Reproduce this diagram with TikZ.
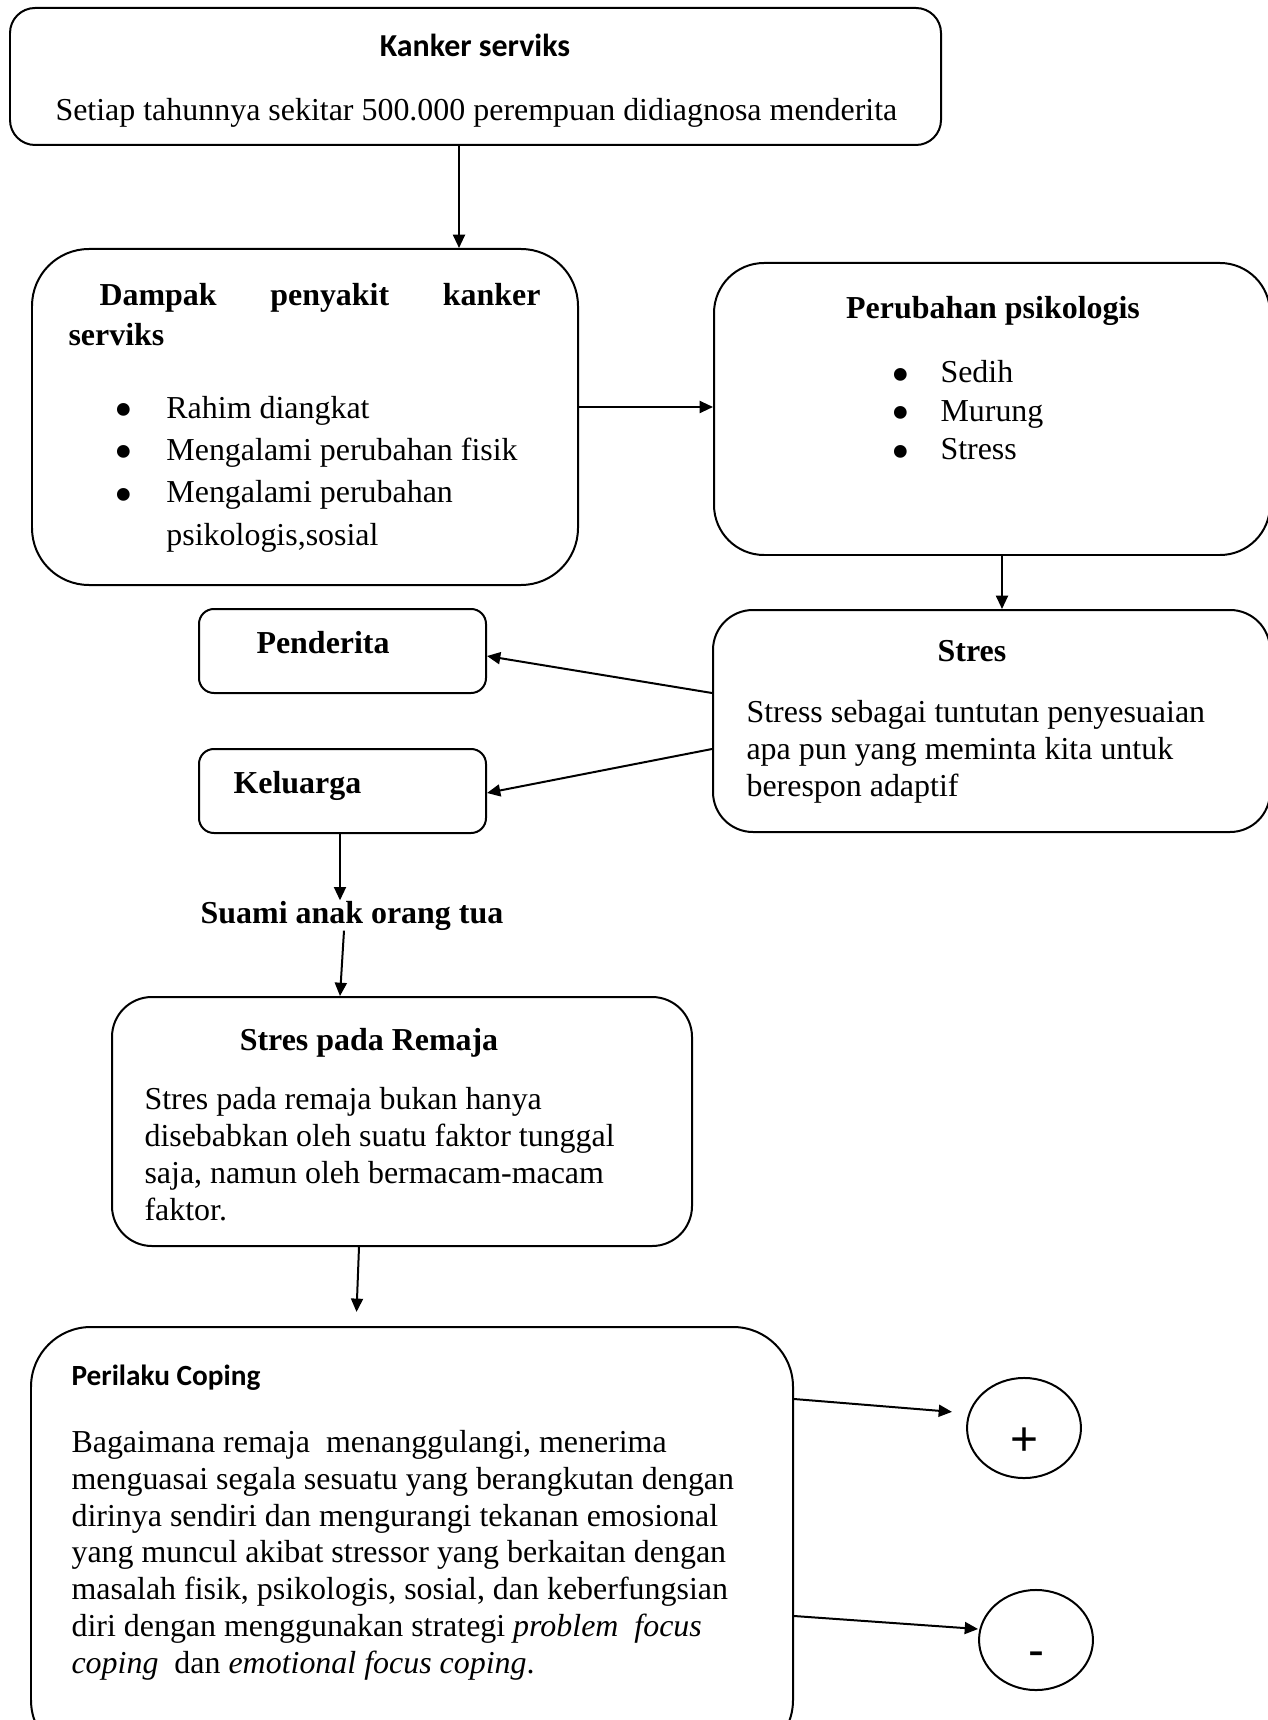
\documentclass[tikz,border=0pt]{standalone}
\usepackage{fontspec}
\setmainfont{Liberation Serif}
\newfontfamily\calibri{Carlito}
\newfontfamily\arialfont{Liberation Sans}
\usetikzlibrary{arrows.meta,fit,shapes.geometric}
\newcommand{\itm}[2][19.5pt]{\makebox[#1][l]{\smash{\raisebox{-3.6pt}{\fontsize{20pt}{20pt}\selectfont\textbullet}}}#2}

\begin{document}
\begin{tikzpicture}[x=0.3757pt, y=-0.3757pt,
	box/.style={draw, line width=0.75pt, inner sep=0pt},
	txt/.style={inner sep=0pt, anchor=base west, align=left, font=\fontsize{12pt}{13.8pt}\selectfont},
	head/.style={inner sep=0pt, anchor=base, font=\fontsize{12pt}{13.8pt}\selectfont\bfseries},
	sans/.style={inner sep=0pt, anchor=base west, font=\calibri\bfseries\fontsize{11pt}{13pt}\selectfont},
	arr/.style={line width=0.75pt, -{Triangle[length=5pt,width=4.5pt]}}]
			
			\useasboundingbox (0,0) rectangle (1267,1720);
			
			%%%%% BOXES %%%%%
			\node[box, rounded corners=9.4pt, fit={(10,8) (941,145)}] (kanker) {};
			\node[box, rounded corners=21.4pt, fit={(32,249) (578,585)}] (dampak) {};
			\node[box, rounded corners=18.8pt, fit={(714,263) (1270,555)}] (perub) {};
			\node[box, rounded corners=15pt, fit={(713,610) (1270,832)}] (stres) {};
			\node[box, rounded corners=5.6pt, fit={(199,609) (486,693)}] (pend) {};
			\node[box, rounded corners=5.6pt, fit={(199,749) (486,833)}] (kel) {};
			\node[box, rounded corners=15pt, fit={(112,997) (692,1246)}] (remaja) {};
			\node[box, rounded corners=22.5pt, fit={(31,1327) (793,1760)}] (peril) {};
			\node[box, ellipse, minimum width=42.8pt, minimum height=37.6pt] (plus) at (1024,1428) {};
			\node[box, ellipse, minimum width=42.8pt, minimum height=37.6pt] (minus) at (1036,1640) {};
			
			%%%%% TEXT (multi-line nodes sit on their last baseline) %%%%%
			\node[sans, anchor=base, font=\calibri\bfseries\fontsize{12pt}{14pt}\selectfont] (kankert) at (475,57) {Kanker serviks};
			\node[txt] (kankerx) at (55,121) {Setiap tahunnya sekitar 500.000 perempuan didiagnosa menderita};
			
			\node[head, anchor=base west] (dampakt) at (99,306) {\makebox[165.7pt][s]{Dampak penyakit kanker}};
			\node[head, anchor=base west] (dampaks) at (68,346) {serviks};
			\node[txt, font=\fontsize{12pt}{15.9pt}\selectfont] (dampakl) at (114,545) {\itm{Rahim diangkat}\\ \itm{Mengalami perubahan fisik}\\ \itm{Mengalami perubahan}\\ \hspace*{19.5pt}psikologis,sosial};
			
			\node[head] (perubt) at (993,319) {Perubahan psikologis};
			\node[txt, font=\fontsize{12pt}{14.5pt}\selectfont] (perubl) at (891,460) {\itm[18.4pt]{Sedih}\\ \itm[18.4pt]{Murung}\\ \itm[18.4pt]{Stress}};
			
			\node[head] (strest) at (972,661) {Stres};
			\node[txt] (stresx) at (746,796) {Stress sebagai tuntutan penyesuaian\\apa pun yang meminta kita untuk\\berespon adaptif};
			
			\node[head, anchor=base west] (pendt) at (256,653) {Penderita};
			\node[head, anchor=base west] (kelt) at (233,793) {Keluarga};
			\node[head] (suami) at (352,923) {Suami anak orang tua};
			
			\node[head] (remajat) at (369,1050) {Stres pada Remaja};
			\node[txt] (remajax) at (144,1220) {Stres pada remaja bukan hanya\\disebabkan oleh suatu faktor tunggal\\saja, namun oleh bermacam-macam\\faktor.};
			
			\node[sans] (perilt) at (71,1385) {Perilaku Coping};
			\node[txt] (perilx) at (71,1673) {Bagaimana remaja\ \ menanggulangi, menerima\\menguasai segala sesuatu yang berangkutan dengan\\dirinya sendiri dan mengurangi tekanan emosional\\yang muncul akibat stressor yang berkaitan dengan\\masalah fisik, psikologis, sosial, dan keberfungsian\\diri dengan menggunakan strategi \textit{problem\ \ focus}\\\textit{coping}\ \ dan \textit{emotional focus coping}.};
			
			\node[inner sep=0pt, anchor=base, font=\arialfont\fontsize{18pt}{20pt}\selectfont] (plust) at (1024,1455) {+};
			\node[inner sep=0pt, anchor=base, font=\arialfont\fontsize{18pt}{20pt}\selectfont] (minust) at (1036,1666) {-};
			
			%%%%% ARROWS %%%%%
			\draw[arr] (459,0 |- kanker.south) -- (459,0 |- dampak.north);
			\draw[arr] (dampak.east |- 0,407) -- (perub.west |- 0,407);
			\draw[arr] (1002,0 |- perub.south) -- (1002,0 |- stres.north);
			\draw[arr] (stres.west |- 0,693) -- (pend.east |- 0,656);
			\draw[arr] (stres.west |- 0,749) -- (kel.east |- 0,793);
			\draw[arr] (340,0 |- kel.south) -- (340,0 |- suami.north);
			\draw[arr] (344,0 |- suami.south) -- (340,0 |- remaja.north);
			\draw[arr, shorten >=5.3pt] (359,0 |- remaja.south) -- (356,0 |- peril.north);
			\draw[arr, shorten >=5.3pt] (peril.east |- 0,1399) -- (plus.west |- 0,1413);
			\draw[arr] (peril.east |- 0,1616) -- (minus.west |- 0,1629);
			
		\end{tikzpicture}
\end{document}
